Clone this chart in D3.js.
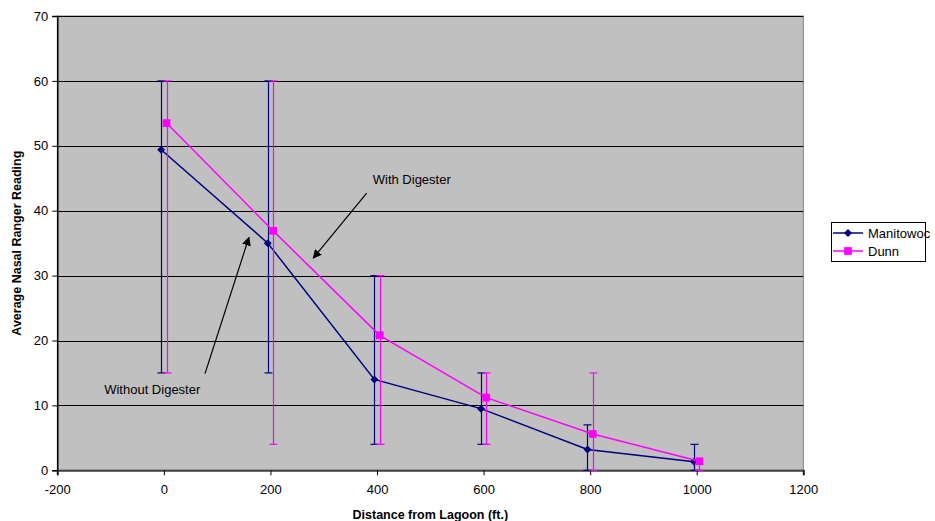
<!DOCTYPE html>
<html><head><meta charset="utf-8">
<script src="https://cdn.jsdelivr.net/npm/d3@7"></script>
<style>body{margin:0;background:#fff;} text{font-family:Arial,"Liberation Sans",sans-serif;}</style>
</head><body><svg id="c" width="935" height="521"></svg>
<script>
const distances = [0, 200, 400, 600, 800, 1000];
const manitowocX = [-5, 195, 395, 595, 795, 995];
const dunnX = [5, 205, 405, 605, 805, 1005];
const manitowocValues = [49.4, 35.0, 14.0, 9.5, 3.2, 1.3];
const dunnValues = [53.5, 36.9, 20.8, 11.2, 5.6, 1.4];
const manitowocLow = [15, 15, 4, 4, 0, 0];
const manitowocHigh = [60, 60, 30, 15, 7, 4];
const dunnLow = [15, 4, 4, 4, 0, 0];
const dunnHigh = [60, 60, 30, 15, 15, 1.4];
const xTicks = [-200, 0, 200, 400, 600, 800, 1000, 1200];
const yTicks = [0, 10, 20, 30, 40, 50, 60, 70];
const seriesNames = ["Manitowoc", "Dunn"];
const annotations = [
  {text: "With Digester", tx: 392, ty: 44.1, x1: 380.6, y1: 42.7, x2: 280.4, y2: 32.7},
  {text: "Without Digester", tx: -112, ty: 11.8, x1: 77.2, y1: 14.9, x2: 159.7, y2: 35.9}
];

const svg = d3.select("#c");
const L = 57.3, R = 803.3, T = 16, B = 470.3;
const x = d3.scaleLinear().domain([-200, 1200]).range([L, R]);
const y = d3.scaleLinear().domain([0, 70]).range([B, T]);

svg.append("rect").attr("x", L).attr("y", T).attr("width", R - L).attr("height", B - T)
  .attr("fill", "#C0C0C0").attr("stroke", "#808080").attr("stroke-width", 1);

svg.append("g").selectAll("line").data(yTicks.filter(d => d > 0)).join("line")
  .attr("x1", L).attr("x2", R).attr("y1", d => Math.round(y(d)) + 0.5).attr("y2", d => Math.round(y(d)) + 0.5)
  .attr("stroke", "#000").attr("stroke-width", 1);

const yAxis = svg.append("g").attr("transform", `translate(${L},0)`)
  .call(d3.axisLeft(y).tickValues(yTicks).tickSize(5).tickPadding(4));
const xAxis = svg.append("g").attr("transform", `translate(0,${B})`)
  .call(d3.axisBottom(x).tickValues(xTicks).tickSize(5).tickPadding(9).tickFormat(d3.format("d")));
[yAxis, xAxis].forEach(g => {
  g.selectAll("text").attr("font-size", 13).attr("fill", "#000").attr("font-family", "Arial, 'Liberation Sans', sans-serif");
  g.selectAll("line").attr("stroke", "#000");
});
yAxis.select(".domain").attr("stroke", "#000").attr("stroke-width", 1.5);
xAxis.select(".domain").attr("stroke", "#404040").attr("stroke-width", 2);
xAxis.selectAll("text").text(d => d < 0 ? "-" + Math.abs(d) : d);

// Axis titles
svg.append("text").attr("x", (L + R) / 2).attr("y", 519).attr("text-anchor", "middle")
  .attr("font-size", 12.5).attr("font-weight", "bold").text("Distance from Lagoon (ft.)");
svg.append("text").attr("transform", `translate(21,${(T + B) / 2}) rotate(-90)`).attr("text-anchor", "middle")
  .attr("font-size", 12.5).attr("font-weight", "bold").text("Average Nasal Ranger Reading");

const series = [
  {name: seriesNames[0], xs: manitowocX, vals: manitowocValues, lo: manitowocLow, hi: manitowocHigh, color: "#000080", shape: d3.symbolSquare, size: 32, rot: 45},
  {name: seriesNames[1], xs: dunnX, vals: dunnValues, lo: dunnLow, hi: dunnHigh, color: "#FF00FF", shape: d3.symbolSquare, size: 60, rot: 0}
];

series.forEach(s => {
  const g = svg.append("g");
  // error bars
  s.xs.forEach((xv, i) => {
    const px = Math.round(x(xv)) + 0.5;
    g.append("line").attr("x1", px).attr("x2", px).attr("y1", y(s.lo[i])).attr("y2", y(s.hi[i]))
      .attr("stroke", s.color).attr("stroke-width", 1.2);
    [s.lo[i], s.hi[i]].forEach((v, k) => {
      if (k === 1 && s.hi[i] === s.vals[i]) return;
      g.append("line").attr("x1", px - 4).attr("x2", px + 4).attr("y1", y(v)).attr("y2", y(v))
        .attr("stroke", s.color).attr("stroke-width", 1.2);
    });
  });
  const line = d3.line().x((d, i) => x(s.xs[i])).y(d => y(d));
  g.append("path").datum(s.vals).attr("d", line).attr("fill", "none").attr("stroke", s.color).attr("stroke-width", 1.5);
  g.selectAll("path.m").data(s.vals).join("path").attr("class", "m")
    .attr("transform", (d, i) => `translate(${x(s.xs[i])},${y(d)}) rotate(${s.rot})`)
    .attr("d", d3.symbol().type(s.shape).size(s.size)).attr("fill", s.color);
});

// annotations
svg.append("defs").append("marker").attr("id", "ah").attr("viewBox", "0 0 10 10").attr("refX", 9).attr("refY", 5)
  .attr("markerWidth", 9).attr("markerHeight", 9).attr("markerUnits", "userSpaceOnUse").attr("orient", "auto")
  .append("path").attr("d", "M0,0 L10,5 L0,10 Z").attr("fill", "#000");
annotations.forEach(a => {
  svg.append("text").attr("x", x(a.tx)).attr("y", y(a.ty)).attr("font-size", 13).attr("fill", "#000").text(a.text);
  svg.append("line").attr("x1", x(a.x1)).attr("y1", y(a.y1)).attr("x2", x(a.x2)).attr("y2", y(a.y2))
    .attr("stroke", "#000").attr("stroke-width", 1.2).attr("marker-end", "url(#ah)");
});

// legend
const lg = svg.append("g");
lg.append("rect").attr("x", 831.5).attr("y", 222.5).attr("width", 94).attr("height", 39)
  .attr("fill", "#fff").attr("stroke", "#000").attr("stroke-width", 1);
series.forEach((s, i) => {
  const ly = 233 + i * 18;
  lg.append("line").attr("x1", 833).attr("x2", 863).attr("y1", ly).attr("y2", ly).attr("stroke", s.color).attr("stroke-width", 1.5);
  lg.append("path").attr("transform", `translate(848,${ly}) rotate(${s.rot})`).attr("d", d3.symbol().type(s.shape).size(s.size)).attr("fill", s.color);
  lg.append("text").attr("x", 868).attr("y", ly + 4.5).attr("font-size", 13).attr("fill", "#000").text(s.name);
});
</script></body></html>
